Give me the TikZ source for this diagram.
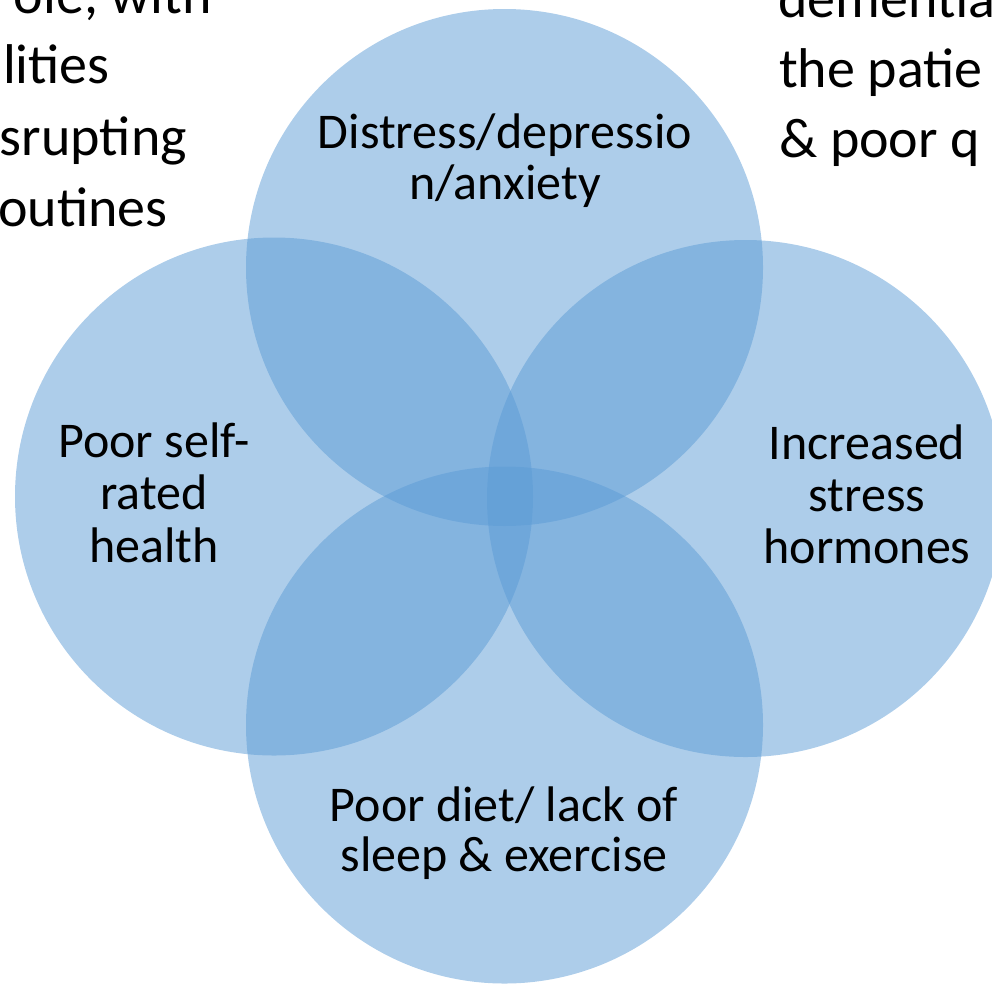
\documentclass[tikz,border=0pt]{standalone}
\usepackage{fontspec}
\setmainfont{Carlito}
\begin{document}
\begin{tikzpicture}[x=1pt,y=-1pt,
  venn/.style={circle, fill=vennblue, fill opacity=0.5, draw=none, minimum size=#1, inner sep=0pt},
  lbl/.style={font=\fontsize{50}{51}\selectfont, align=center, text=black, inner sep=0pt},
  side/.style={font=\fontsize{56}{70}\selectfont, text=black, inner sep=0pt}]
\definecolor{vennblue}{HTML}{5B9BD5}
\useasboundingbox (0,0) rectangle (992,983);
\clip (0,0) rectangle (992,983);
% side texts (cut off by the picture frame)
\node[side, anchor=base east] (tl1) at (212,13) {ole, with};
\node[side, anchor=base east] (tl2) at (110,83) {lities};
\node[side, anchor=base east] (tl3) at (187,155) {srupting};
\node[side, anchor=base east] (tl4) at (168,226) {outines};
\node[side, anchor=base west] (tr1) at (778,17) {dementia};
\node[side, anchor=base west] (tr2) at (779,87) {the patie};
\node[side, anchor=base west] (tr3) at (779,157) {\&{} poor q};
% circles
\node[venn=517pt] (ctop) at (504.5,267.5) {};
\node[venn=518pt] (cleft) at (274,496.5) {};
\node[venn=517pt] (cright) at (745.5,498.5) {};
\node[venn=517pt] (cbot) at (504.5,725) {};
% labels (anchor = baseline of the last line)
\node[lbl, anchor=base] (ttop) at (505,199) {Distress/depressio\\n/anxiety};
\node[lbl, anchor=base, font=\fontsize{50}{52.5}\selectfont] (tleft) at (154,562) {Poor self-\\rated\\health};
\node[lbl, anchor=base, font=\fontsize{50}{52}\selectfont] (tright) at (867,563) {Increased\\stress\\hormones};
\node[lbl, anchor=base, font=\fontsize{50}{50}\selectfont] (tbot) at (504,871) {Poor diet/ lack of\\sleep \&{} exercise};
\end{tikzpicture}
\end{document}
